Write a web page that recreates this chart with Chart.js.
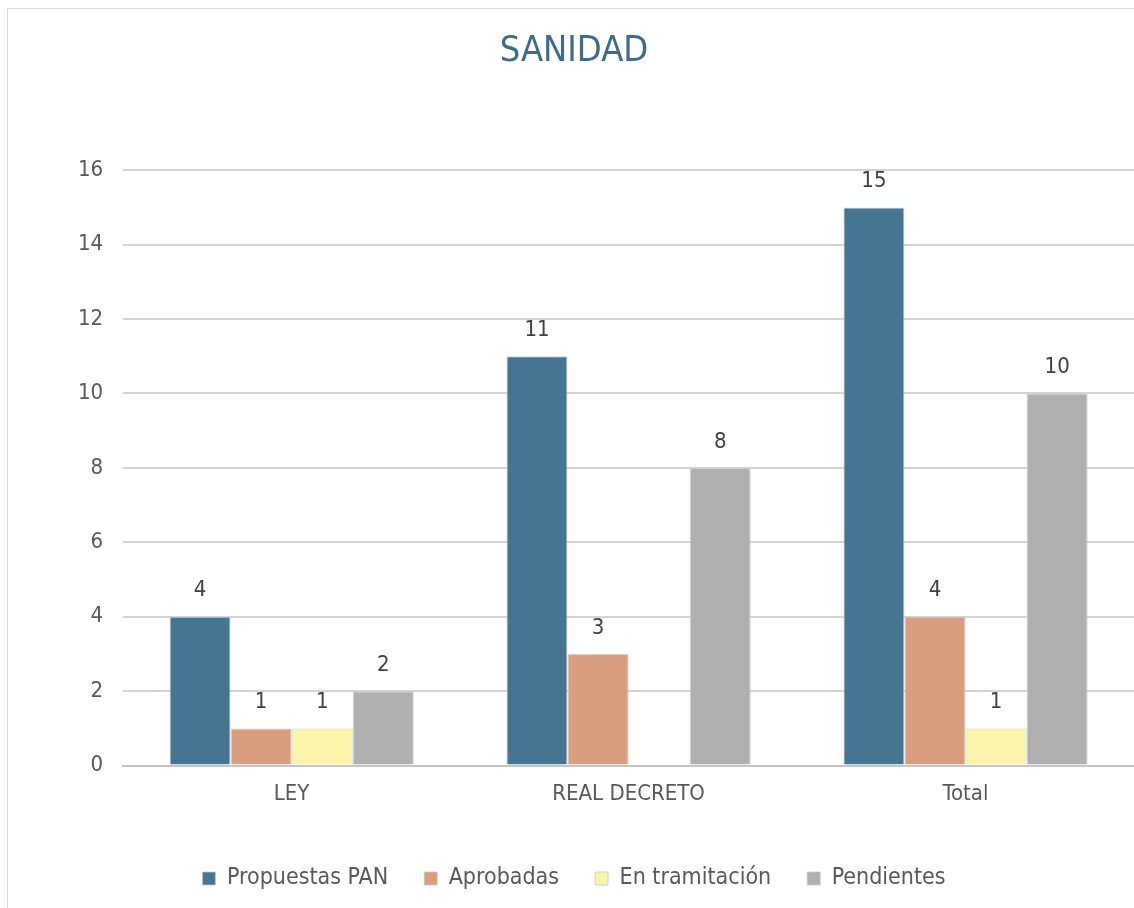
<!DOCTYPE html>
<html>
<head>
<meta charset="utf-8">
<script src="https://cdn.jsdelivr.net/npm/chart.js@4/dist/chart.umd.min.js"></script>
<style>
  html, body { margin: 0; padding: 0; background: #ffffff; }
  .frame {
    position: absolute; left: 7px; top: 8px; width: 1140px; height: 910px;
    border-left: 1px solid #d9d9d9; border-top: 1px solid #d9d9d9;
  }
  .chart-box { position: absolute; left: 0; top: 0; width: 1134px; height: 908px; }
</style>
</head>
<body>
<div class="frame"></div>
<div class="chart-box"><canvas id="sanidadChart"></canvas></div>
<script>
// datos del gráfico
const categories = ['LEY', 'REAL DECRETO', 'Total'];
const seriesNames = ['Propuestas PAN', 'Aprobadas', 'En tramitación', 'Pendientes'];
const propuestas = [4, 11, 15];
const aprobadas = [1, 3, 4];
const tramitacion = [1, 0, 1];
const pendientes = [2, 8, 10];
const seriesColors = ['#467592', '#d99e7f', '#faf5ab', '#b0b0b0'];

const FONT = '"DejaVu Sans Condensed", "DejaVu Sans", sans-serif';

// etiquetas de valor encima de cada barra (no se pinta el 0)
const valueLabels = {
    id: 'valueLabels',
    afterDatasetsDraw(chart) {
        const ctx = chart.ctx;
        ctx.save();
        ctx.font = '22px ' + FONT;
        ctx.fillStyle = '#404040';
        ctx.textAlign = 'center';
        ctx.textBaseline = 'bottom';
        chart.data.datasets.forEach((ds, i) => {
            chart.getDatasetMeta(i).data.forEach((bar, j) => {
                const v = ds.data[j];
                if (!v) return;
                ctx.fillText(String(v), bar.x, bar.y - 15);
            });
        });
        ctx.restore();
    }
};

const allSeries = [propuestas, aprobadas, tramitacion, pendientes];

new Chart(document.getElementById('sanidadChart'), {
    type: 'bar',
    data: {
        labels: categories,
        datasets: allSeries.map((vals, i) => ({
            label: seriesNames[i],
            data: vals,
            backgroundColor: seriesColors[i],
            borderColor: 'rgba(200,200,200,0.8)',
            borderWidth: 1,
            categoryPercentage: 0.725,
            barPercentage: 1.0
        }))
    },
    plugins: [valueLabels],
    options: {
        responsive: true,
        maintainAspectRatio: false,
        animation: false,
        layout: { padding: { left: 14, right: 0, top: 0, bottom: 8 } },
        plugins: {
            title: {
                display: true,
                text: 'SANIDAD',
                color: '#3d6b8a',
                font: { family: FONT, size: 36, weight: 'normal' },
                padding: { top: 30, bottom: 97 }
            },
            legend: {
                position: 'bottom',
                labels: {
                    color: '#595959',
                    font: { family: FONT, size: 23 },
                    boxWidth: 13,
                    boxHeight: 13,
                    padding: 36
                }
            },
            tooltip: { enabled: false }
        },
        scales: {
            x: {
                grid: { display: false },
                border: { color: '#c4c4c4', width: 2 },
                ticks: { color: '#595959', font: { family: FONT, size: 22 }, padding: 7 },
                afterFit: (scale) => { scale.height += 17; }
            },
            y: {
                min: 0,
                max: 16,
                ticks: { stepSize: 2, color: '#595959', font: { family: FONT, size: 22 }, padding: 20 },
                grid: { color: '#d4d4d4', lineWidth: 2, drawTicks: false },
                border: { display: false },
                afterFit: (scale) => { scale.width += 44; }
            }
        }
    }
});
</script>
</body>
</html>
